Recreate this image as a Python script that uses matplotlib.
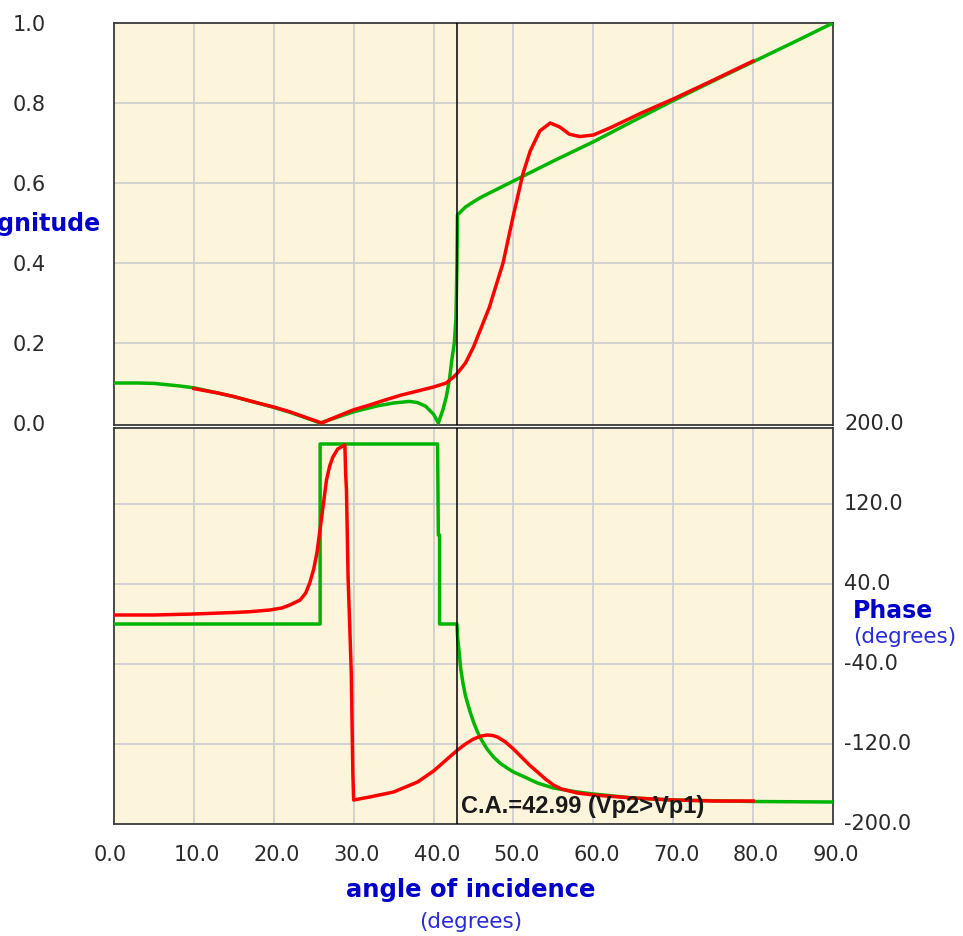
import matplotlib
matplotlib.use("Agg")
import matplotlib.pyplot as plt
from matplotlib.transforms import offset_copy, blended_transform_factory

# ---------------- data ----------------
mag_green_x = [0, 3, 5, 8, 10, 13, 15, 18, 20, 22, 24, 25.8, 27, 30, 33, 35, 37, 38, 39, 40,
               40.6, 41.2, 41.6, 42.0, 42.3, 42.6, 42.8, 42.93, 42.99, 44, 45, 46, 48, 50,
               52, 55, 60, 65, 70, 75, 80, 85, 90]
mag_green_y = [0.100, 0.100, 0.099, 0.093, 0.088, 0.075, 0.066, 0.050, 0.039, 0.027, 0.013,
               0.0, 0.008, 0.028, 0.043, 0.050, 0.054, 0.051, 0.042, 0.022,
               0.0, 0.035, 0.066, 0.11, 0.16, 0.20, 0.26, 0.40, 0.52, 0.540, 0.553, 0.565,
               0.585, 0.605, 0.625, 0.655, 0.703, 0.755, 0.806, 0.855, 0.903, 0.951, 1.0]

mag_red_x = [10, 13, 15, 18, 20, 22, 24, 26, 28, 30, 32, 34, 36, 38, 40, 41.6, 42.5, 43, 44,
             45, 46, 47, 47.3, 48.7, 50, 51.2, 52.1, 53.3, 54.6, 55.8, 57, 58.3, 60, 62,
             63.7, 66, 70, 75, 80]
mag_red_y = [0.086, 0.075, 0.066, 0.050, 0.040, 0.028, 0.014, 0.0, 0.017, 0.033, 0.045,
             0.058, 0.070, 0.080, 0.090, 0.100, 0.115, 0.125, 0.150, 0.190, 0.240, 0.290,
             0.310, 0.400, 0.520, 0.624, 0.680, 0.730, 0.750, 0.740, 0.722, 0.716, 0.720,
             0.737, 0.753, 0.775, 0.810, 0.857, 0.905]

ph_green_x = [0, 25.8, 25.8, 40.5, 40.6, 40.75, 40.75, 42.93, 43.0, 43.2, 43.4, 43.7, 44,
              44.5, 45, 45.5, 46, 46.7, 47.5, 48.3, 49.2, 50, 51.4, 53, 55, 58, 60, 65, 70,
              80, 90]
ph_green_y = [0, 0, 180, 180, 89, 89, 0, 0, -12, -28, -45, -60, -72, -86, -98, -108, -116,
              -125, -133, -139, -144, -148, -153, -159, -164, -168, -170, -174, -176,
              -177.5, -178]

ph_red_x = [0, 5, 10, 15, 17, 19.5, 21, 22, 23.3, 24, 24.5, 25, 25.4, 26, 26.6, 27, 27.4,
            28, 28.9, 29.0, 29.1, 29.3, 29.5, 29.7, 29.9, 30.0, 32, 35, 38, 40, 42, 43, 44,
            45, 46, 46.7, 47.4, 48, 49, 50, 51, 52, 53, 54, 55, 56, 58, 60, 65, 70, 75, 80]
ph_red_y = [9, 9, 10, 11.5, 12.3, 14, 16, 19, 24, 31, 41, 55, 71, 107, 144, 158, 167, 175,
            179, 150, 134, 47, 0, -49, -150, -176, -173, -168, -158, -147, -133, -126,
            -120, -115, -112, -111, -111.5, -113, -118, -125, -133, -141, -148, -155, -161,
            -165, -169, -171, -174, -176, -177, -177]

x_ticks = [0, 10, 20, 30, 40, 50, 60, 70, 80, 90]
x_labels = ["0.0", "10.0", "20.0", "30.0", "40.0", "50.0", "60.0", "70.0", "80.0", "90.0"]
mag_ticks = [0.0, 0.2, 0.4, 0.6, 0.8, 1.0]
mag_labels = ["0.0", "0.2", "0.4", "0.6", "0.8", "1.0"]
ph_ticks = [200, 120, 40, -40, -120, -200]
ph_labels = ["200.0", "120.0", "40.0", "-40.0", "-120.0", "-200.0"]
critical_angle = 42.93
ca_text = "C.A.=42.99 (Vp2>Vp1)"

# ---------------- style ----------------
W, H = 963, 936
BG = "#fcf5dc"
GRID = "#cfcfcf"
GREEN = "#00b400"
RED = "#ff0000"
BLUE = "#0000c8"
BLUE2 = "#2b2bd6"
TXT = "#2a2a2a"
FRAME = "#3a3a3a"

fig = plt.figure(figsize=(W / 100, H / 100), dpi=100)
fig.patch.set_facecolor("white")


def rect(l, t, r, b):
    return [l / W, 1 - b / H, (r - l) / W, (b - t) / H]


ax1 = fig.add_axes(rect(114, 23, 833, 425))
ax2 = fig.add_axes(rect(114, 428, 833, 824))

for ax in (ax1, ax2):
    ax.set_facecolor(BG)
    ax.set_xlim(0, 90)
    ax.set_xticks([10, 20, 30, 40, 50, 60, 70, 80])
    ax.tick_params(length=0, labelbottom=False, labelleft=False)
    ax.grid(True, color=GRID, lw=1.3)
    ax.set_axisbelow(True)
    for s in ax.spines.values():
        s.set_color(FRAME)
        s.set_linewidth(1.3)

ax1.set_ylim(-0.005, 1.0)
ax1.set_yticks([0.2, 0.4, 0.6, 0.8])
ax2.set_ylim(-200, 196)
ax2.set_yticks([120, 40, -40, -120])

LW = 2.5
ax1.plot(mag_green_x, mag_green_y, color=GREEN, lw=LW, solid_joinstyle="round", zorder=3)
ax1.plot(mag_red_x, mag_red_y, color=RED, lw=LW, solid_joinstyle="round", zorder=4)
ax2.plot(ph_green_x, ph_green_y, color=GREEN, lw=LW, solid_joinstyle="round", zorder=3)
ax2.plot(ph_red_x, ph_red_y, color=RED, lw=LW, solid_joinstyle="round", zorder=4)

for ax in (ax1, ax2):
    ax.axvline(critical_angle, color="black", lw=1.1, zorder=5)

# C.A. text
ax2.text(critical_angle, -183, ca_text,
         transform=offset_copy(ax2.transData, fig=fig, x=4, y=0, units="dots"),
         fontsize=17, fontweight="bold", family="Liberation Sans", color="#1a1a1a",
         ha="left", va="center", zorder=6)

# ---------------- tick labels ----------------
tick_font = dict(fontsize=15, family="DejaVu Sans", color=TXT)
for v, lab in zip(mag_ticks, mag_labels):
    tr = blended_transform_factory(fig.transFigure, ax1.transData)
    ax1.text(46 / W, v - 0.004, lab, transform=tr, ha="right", va="center", clip_on=False, **tick_font)
for v, lab in zip(ph_ticks, ph_labels):
    tr = blended_transform_factory(fig.transFigure, ax2.transData)
    ax2.text(844 / W, v, lab, transform=tr, ha="left", va="center", clip_on=False, **tick_font)
for v, lab in zip(x_ticks, x_labels):
    tr = offset_copy(blended_transform_factory(ax2.transData, fig.transFigure), fig=fig,
                     x=-20, y=0, units="dots")
    ax2.text(v, 1 - 855 / H, lab, transform=tr, ha="left", va="center", clip_on=False, **tick_font)

# ---------------- axis titles ----------------
fig.text(101 / W, 1 - 224 / H, "Magnitude", ha="right", va="center", fontsize=17,
         fontweight="bold", color=BLUE, family="DejaVu Sans")
fig.text(853 / W, 1 - 618 / H, "Phase", ha="left", va="baseline", fontsize=17,
         fontweight="bold", color=BLUE, family="DejaVu Sans")
fig.text(853 / W, 1 - 643 / H, "(degrees)", ha="left", va="baseline", fontsize=15.5,
         color=BLUE2, family="DejaVu Sans")
fig.text(470.5 / W, 1 - 897 / H, "angle of incidence", ha="center", va="baseline", fontsize=17.5,
         fontweight="bold", color=BLUE, family="DejaVu Sans")
fig.text(471 / W, 1 - 928 / H, "(degrees)", ha="center", va="baseline", fontsize=15.5,
         color=BLUE2, family="DejaVu Sans")

fig.savefig("out.png", dpi=100, facecolor="white")
